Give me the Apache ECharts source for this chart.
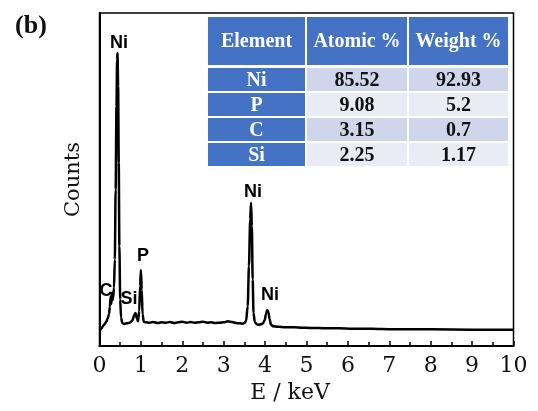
<!DOCTYPE html>
<html>
<head>
<meta charset="utf-8">
<script src="https://cdn.jsdelivr.net/npm/echarts@6/dist/echarts.min.js"></script>
<style>
html,body{margin:0;padding:0;background:#fff;}
#chart{width:538px;height:411px;}
</style>
</head>
<body>
<div id="chart"></div>
<script>
// ---- data ----
const energy = [0.02,0.05,0.08,0.11,0.14,0.17,0.20,0.23,0.25,0.27,0.285,0.30,0.315,0.33,0.35,0.37,0.39,0.41,0.425,0.435,0.45,0.465,0.48,0.50,0.52,0.55,0.60,0.65,0.70,0.75,0.80,0.84,0.87,0.90,0.93,0.96,0.98,1.00,1.02,1.04,1.07,1.12,1.2,1.3,1.4,1.5,1.6,1.7,1.8,1.9,2.0,2.1,2.2,2.3,2.4,2.5,2.6,2.7,2.8,2.9,3.0,3.1,3.2,3.3,3.4,3.45,3.5,3.54,3.58,3.61,3.64,3.66,3.68,3.70,3.72,3.75,3.80,3.85,3.90,3.95,3.99,4.02,4.05,4.08,4.11,4.14,4.2,4.3,4.4,4.5,4.7,4.9,5.1,5.3,5.5,5.8,6.1,6.4,6.8,7.2,8.0,9.0,10.0];
const counts = [4.8,5.3,5.9,6.3,6.9,7.4,8.3,9.6,11.8,14.9,12.6,16.0,13.8,14.5,17.5,26,47,72,86,88,78,55,30,14,8.5,6.9,6.6,6.8,6.9,7.1,7.8,9.4,9.9,8.4,7.4,10.5,18,22.8,17,9.5,7.3,7.1,7.0,7.2,6.9,7.1,7.0,7.2,6.9,7.1,7.3,7.0,7.2,7.0,7.1,7.3,7.0,7.1,6.9,7.0,7.1,7.4,7.2,6.9,6.8,6.7,6.9,7.5,12,24,38,43,36,20,10,7.2,6.5,6.4,6.5,6.8,7.8,9.5,10.8,10.2,8.0,6.4,5.9,5.8,5.7,5.6,5.6,5.5,5.4,5.4,5.3,5.3,5.2,5.2,5.1,5.0,5.0,4.9,4.9];

const peakNames = ['Ni','C','Si','P','Ni','Ni'];
const peakPos = [[0.47,91],[0.16,16.5],[0.71,14.1],[1.05,27],[3.71,46.2],[4.12,15.3]];

const xTicks = ['0','1','2','3','4','5','6','7','8','9','10'];

const tableHeader = ['Element','Atomic %','Weight %'];
const tableElements = ['Ni','P','C','Si'];
const atomicPct = ['85.52','9.08','3.15','2.25'];
const weightPct = ['92.93','5.2','0.7','1.17'];

// ---- table graphic ----
const colX = [[208,305],[307,407],[409,508]];
const headY = [17,65];
const rowY = [[68,91],[93,116],[118,141],[143,166]];
const blue = '#4472C4';
const light = ['#CFD5EA','#E9EBF5'];
const graphics = [];
function cell(x0,x1,y0,y1,fill,text,color){
  graphics.push({type:'rect',shape:{x:x0,y:y0,width:x1-x0,height:y1-y0},style:{fill:fill},z:10,silent:true});
  graphics.push({type:'text',x:(x0+x1)/2,y:(y0+y1)/2+1,z:11,silent:true,
    style:{text:text,fill:color,font:'bold 20px "Liberation Serif", serif',align:'center',verticalAlign:'middle',textAlign:'center',textVerticalAlign:'middle'}});
}
graphics.push({type:'rect',shape:{x:206,y:15,width:304,height:153},style:{fill:'#fff'},z:9,silent:true});
tableHeader.forEach((h,i)=>cell(colX[i][0],colX[i][1],headY[0],headY[1],blue,h,'#fff'));
tableElements.forEach((e,r)=>{
  cell(colX[0][0],colX[0][1],rowY[r][0],rowY[r][1],blue,e,'#fff');
  cell(colX[1][0],colX[1][1],rowY[r][0],rowY[r][1],light[r%2],atomicPct[r],'#111');
  cell(colX[2][0],colX[2][1],rowY[r][0],rowY[r][1],light[r%2],weightPct[r],'#111');
});
graphics.push({type:'text',x:31,y:26,z:11,silent:true,
  style:{text:'(b)',fill:'#111',font:'bold 26px "Liberation Serif", serif',align:'center',verticalAlign:'middle',textAlign:'center',textVerticalAlign:'middle'}});

const chart = echarts.init(document.getElementById('chart'), null, {renderer:'canvas'});
chart.setOption({
  animation:false,
  backgroundColor:'#fff',
  grid:{left:99.5,right:24.5,top:13,bottom:65,show:true,borderColor:'#000',borderWidth:1.5,backgroundColor:'transparent'},
  xAxis:{
    type:'value',min:0,max:10,interval:1,
    name:'E / keV',nameLocation:'middle',nameGap:34,
    nameTextStyle:{fontFamily:'"DejaVu Serif", serif',fontSize:22,color:'#111',padding:[0,33,0,0]},
    axisLine:{show:true,onZero:false,lineStyle:{color:'#000',width:2}},
    axisTick:{show:true,inside:true,length:5,lineStyle:{color:'#000',width:1.5}},
    minorTick:{show:true,splitNumber:2,length:4,lineStyle:{color:'#000',width:1.5}},
    splitLine:{show:false},
    axisLabel:{fontFamily:'"DejaVu Serif", serif',fontSize:22,color:'#111',margin:9,
      formatter:function(v){return xTicks[Math.round(v)];}}
  },
  yAxis:{
    type:'value',min:0,max:100,
    name:'Counts',nameLocation:'middle',nameGap:15,
    nameTextStyle:{fontFamily:'"DejaVu Serif", serif',fontSize:21,color:'#111'},
    axisLine:{show:true,lineStyle:{color:'#000',width:2}},
    axisTick:{show:false},axisLabel:{show:false},splitLine:{show:false}
  },
  graphic:graphics,
  series:[
    {type:'line',data:energy.map((e,i)=>[e,counts[i]]),showSymbol:false,smooth:0.3,smoothMonotone:'x',
      lineStyle:{color:'#000',width:2.5},z:3},
    {type:'scatter',data:peakPos.map((p,i)=>({value:p,name:peakNames[i]})),symbolSize:0,z:4,
      itemStyle:{color:'#000',opacity:1},
      label:{show:true,position:'inside',formatter:'{b}',fontFamily:'"Liberation Sans", Arial, sans-serif',fontWeight:'bold',fontSize:18,color:'#000',opacity:1,textBorderWidth:0,textBorderColor:'transparent'}}
  ]
});
</script>
</body>
</html>
